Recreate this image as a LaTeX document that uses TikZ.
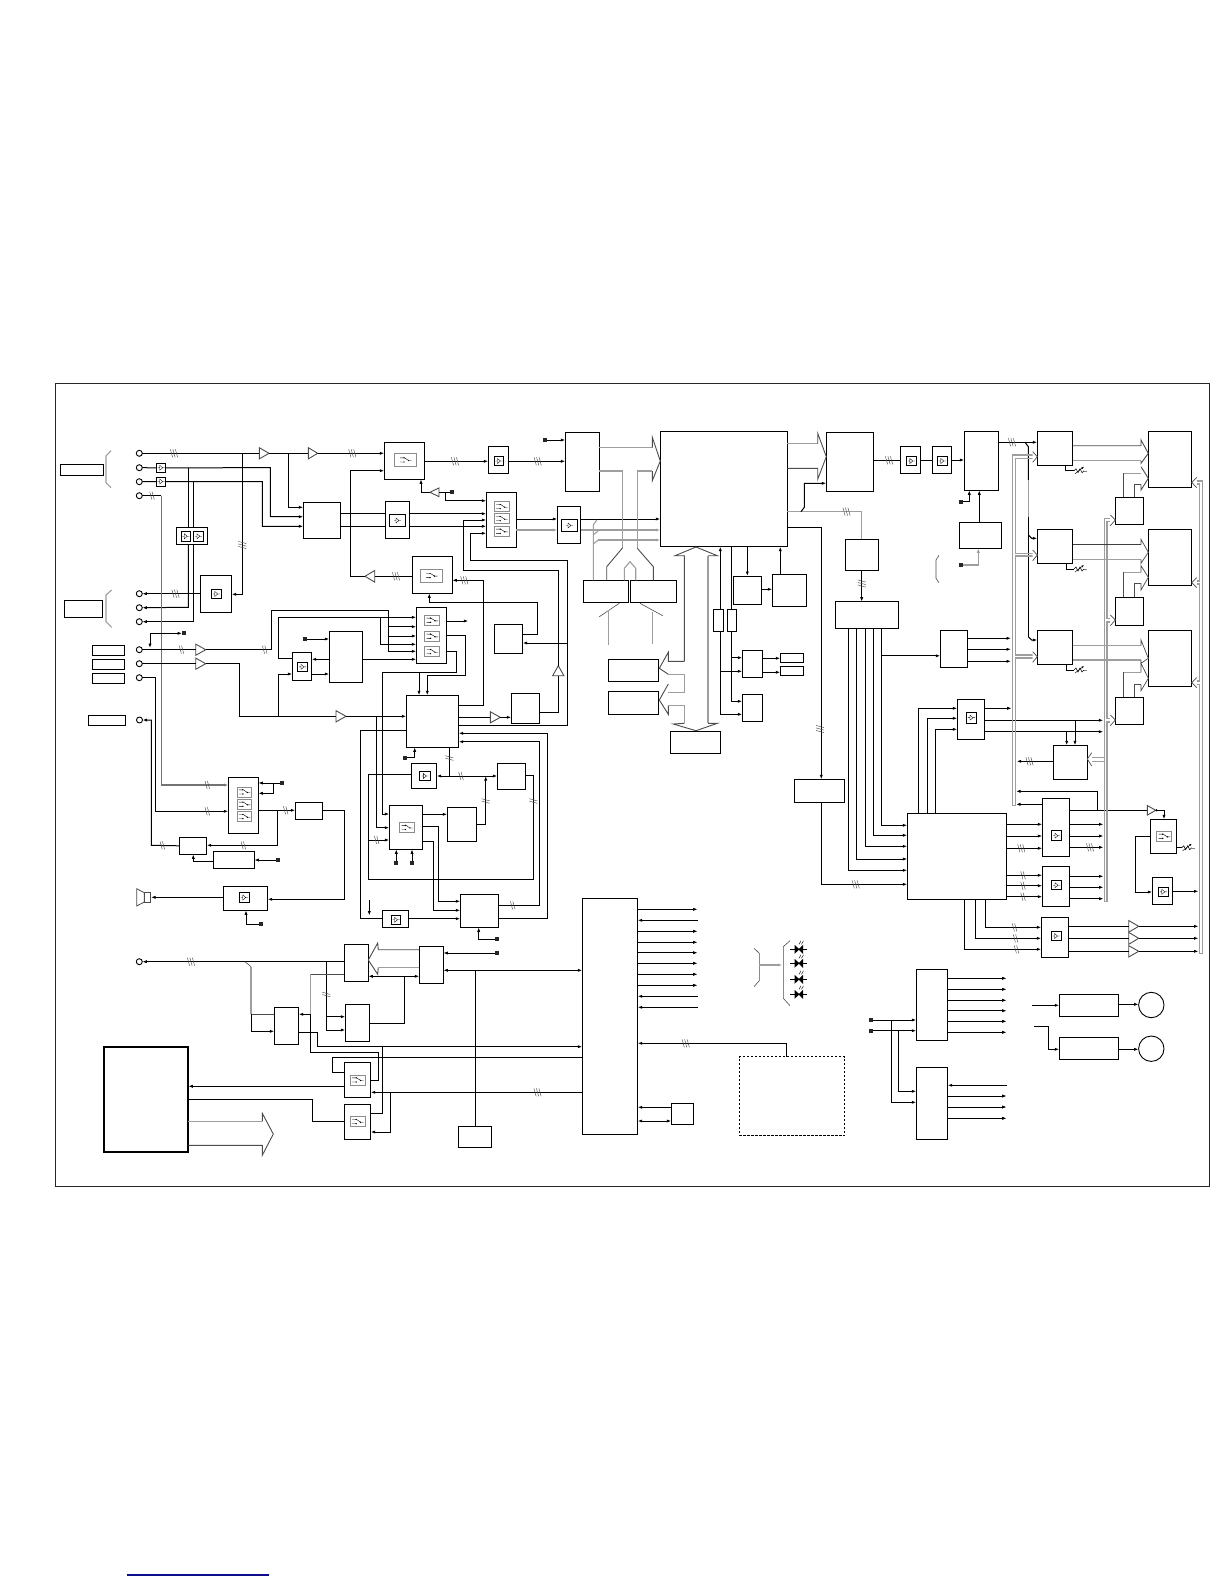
\documentclass[tikz,border=0pt]{standalone}
\usetikzlibrary{arrows.meta}
\definecolor{busgray}{gray}{0.62}
\definecolor{tipgray}{gray}{0.3}
\definecolor{linkblue}{rgb}{0.05,0.05,0.55}
\tikzset{
  wire/.style={line width=1pt,line join=miter},
  ar/.style={wire,-{Latex[length=4.5pt,width=3.2pt]}},
  ra/.style={wire,{Latex[length=4.5pt,width=3.2pt]}-},
  dar/.style={wire,{Latex[length=4.5pt,width=3.2pt]}-{Latex[length=4.5pt,width=3.2pt]}},
  gw/.style={line width=1.1pt,color=busgray},
  gar/.style={gw,-{Latex[length=4.5pt,width=3.2pt]}},
  dgw/.style={line width=0.9pt,color=tipgray},
  tick/.style={line width=0.45pt,color=tipgray},
  blk/.style={draw,line width=1pt,inner sep=0pt,outer sep=0pt},
  term/.style={draw,circle,line width=0.9pt,inner sep=0pt,outer sep=0pt,minimum size=6pt,fill=white},
  termsq/.style={fill=black!85,inner sep=0pt,outer sep=0pt,minimum size=3.8pt},
}
% box: name, x1,y1,x2,y2
\newcommand\Bx[6][]{\node[blk,#1,minimum width={(#5-#3)*1pt},minimum height={(#6-#4)*1pt}] (#2) at ({(#3+#5)/2},{(#4+#6)/2}) {};}
\newcommand\Sq[3]{\node[termsq] (#1) at (#2,#3) {};}
\newcommand\Ci[3]{\node[term] (#1) at (#2,#3) {};}
% inner switch icon
\newcommand\Swi[4]{\draw[color=black!45,line width=0.8pt] (#1,#2) rectangle (#3,#4);
  \begin{scope}[shift={({(#1+#3)/2},{(#2+#4)/2})}]
  \draw[line width=0.4pt] (-5.5,-2.2)--(-1,-2.2) (-5.5,2)--(-1,2) (-1,-2.2)--(3,0.5)--(6,0.5);
  \fill (-1.5,-2.2) circle (0.7) (-1.5,2) circle (0.7) (3,0.5) circle (0.7);
  \end{scope}}
% bare amplifier glyph, centred on a point
\newcommand\Gly[2]{\begin{scope}[shift={(#1,#2)}]
  \draw[line width=0.35pt] (-3.5,0)--(-1.5,0) (-1.5,-2.5)--(1.5,0)--(-1.5,2.5)--cycle (1.5,0)--(3.5,0);
  \end{scope}}
% inner amplifier icon
\newcommand\Amp[4]{\draw[line width=0.85pt] (#1,#2) rectangle (#3,#4);
  \Gly{{(#1+#3)/2}}{{(#2+#4)/2}}}
% triangles: name,x1,x2,y,halfheight  (right or left by the order of x), up: name,x,y1,y2,halfwidth
\newcommand\TriH[5]{\draw[dgw,fill=white] (#2,#4-#5)--(#3,#4)--(#2,#4+#5)--cycle;
  \coordinate (#1-a) at (#2,#4); \coordinate (#1-b) at (#3,#4);}
\newcommand\TriV[5]{\draw[dgw,fill=white] (#2-#5,#3)--(#2,#4)--(#2+#5,#3)--cycle;
  \coordinate (#1-a) at (#2,#3); \coordinate (#1-b) at (#2,#4);}
% tick marks on wires
\newcommand\Th[3]{\foreach \i in {#3} {\draw[tick] (#1+\i-1.1,#2-4)--(#1+\i+1.1,#2+4);}}
\newcommand\Tv[3]{\foreach \i in {#3} {\draw[tick] (#1-4,#2+\i-1.1)--(#1+4,#2+\i+1.1);}}
% variable resistor
\newcommand\Vres[2]{\draw[line width=0.5pt] (#1,#2)--(#1+2,#2-2)--(#1+4,#2+2)--(#1+6,#2-2)--(#1+8,#2+2)--(#1+10,#2);
  \draw[line width=0.45pt,-{Latex[length=2.5pt,width=2pt]}] (#1+1,#2+3)--(#1+10,#2-4);
  \draw[line width=0.4pt,color=black!50] (#1+10,#2)--(#1+13,#2);}
% LED
\newcommand\Led[1]{\draw[line width=0.8pt] (790,#1)--(807.3,#1);
  \fill (794.5,#1-4.5)--(799.5,#1)--(794.5,#1+4.5)--cycle (803,#1-4.5)--(798.5,#1)--(803,#1+4.5)--cycle;
  \draw[line width=0.4pt] (799,#1-5)--(801,#1-8.5) (801.5,#1-5)--(803.5,#1-8.5);}
% hollow arrow head
\newcommand\Hd[1]{\draw[dgw,line width=0.7pt,fill=white] #1;}
\begin{document}
\begin{tikzpicture}[x=1pt,y=-1pt]
\useasboundingbox (0,0) rectangle (1224,1584);
\fill[white] (0,0) rectangle (1224,1584);
\draw[line width=0.9pt,color=black!85] (55.5,383) rectangle (1209.3,1186.7);
\draw[line width=1.1pt,color=linkblue] (126.7,1575) -- (269,1575);

% ---- blocks
\Bx{labA}{60.3}{464.3}{103.3}{475.3}
\Bx{labB}{64.3}{600.3}{102.7}{617.7}
\Bx{labC}{92.3}{645.3}{124.7}{655.3}
\Bx{labD}{92.3}{659.3}{124.7}{669.3}
\Bx{labE}{92.3}{673.3}{124.7}{683.3}
\Bx{labF}{88.3}{715}{125.5}{725.3}
\Bx{sqA}{156.7}{463.3}{165.7}{472.3}
\Bx{sqB}{156.7}{477}{165.7}{486}
\Bx{dbl}{176.3}{527.3}{207.3}{544.3}
\Bx{outA}{200.3}{575.3}{231.7}{612.3}
\Bx{mixB}{303.3}{502.7}{340.3}{538.3}
\Bx{swD}{384.3}{442.7}{424.3}{479.3}
\Bx{ampF}{488.3}{446.3}{508.3}{473.3}
\Bx{boxG}{565.3}{432.7}{599.3}{491.3}
\Bx{ampJ}{385.3}{501.3}{409.7}{538.3}
\Bx{swK}{486.3}{492.3}{516.3}{547.3}
\Bx{ampL}{557.3}{506.3}{580.7}{543.7}
\Bx{swE}{412.3}{556.3}{452.3}{593.3}
\Bx{swM}{416.3}{607.3}{446.7}{663.3}
\Bx{boxN}{494.3}{624.3}{522.7}{653.3}
\Bx{adc}{292.3}{652.3}{311.7}{680.3}
\Bx{boxC}{329.3}{631.3}{362.7}{682.3}
\Bx{boxP}{406.3}{695.3}{458.7}{747.3}
\Bx{boxO}{511.3}{693.3}{539.7}{723.3}
\Bx{ampU}{411.3}{763.3}{436.7}{788.7}
\Bx{boxV}{497.3}{763.3}{525.7}{789.3}
\Bx{swR}{389.3}{805.7}{422.3}{849.3}
\Bx{boxS}{447.3}{807.3}{476.3}{841.3}
\Bx{ampQ}{382.3}{910.3}{408.7}{927.3}
\Bx{boxT}{460.3}{894.3}{498.7}{927.3}
\Bx{swW}{228.3}{777.3}{258.3}{833.3}
\Bx{boxX}{295.3}{802.3}{322.3}{819.3}
\Bx{boxY}{179.3}{837.3}{206.7}{854.3}
\Bx{boxZ}{213.3}{851.3}{254.3}{868.3}
\Bx{ampAA}{223.3}{886.3}{267.7}{910.3}
\Bx{boxBB}{344.3}{944.3}{368.3}{981.3}
\Bx{boxCC}{419.3}{946.3}{443.3}{983.3}
\Bx{boxDD}{345.3}{1004.3}{369.7}{1041.3}
\Bx{boxEE}{458.3}{1126.3}{491.3}{1147.3}
\Bx{boxFF}{274.3}{1007.3}{298.7}{1044.3}
\Bx{swGG}{344.3}{1062.3}{370.7}{1097.3}
\Bx{swHH}{344.3}{1104.3}{370.7}{1139.3}
\Bx[line width=2pt]{mon}{104}{1046.7}{188.3}{1152}
\Bx{ctrl}{582.3}{898.3}{637.7}{1134.3}
\Bx{smallB}{671.3}{1103.3}{693.7}{1124.3}
\Bx[dashed,dash pattern=on 2.5pt off 1.5pt]{dashB}{739.3}{1056.7}{844.7}{1135.7}
\Bx{boxII}{916.3}{969.3}{947.7}{1040.3}
\Bx{boxJJ}{916.3}{1067.3}{947.7}{1139.3}
\Bx{boxKK}{1059.3}{994.3}{1118}{1016}
\Bx{boxLL}{1059.3}{1037.7}{1118}{1059.3}
\node[draw,circle,line width=0.9pt,inner sep=0pt,outer sep=0pt,minimum size=25.4pt] (motA) at (1151.3,1005) {};
\node[draw,circle,line width=0.9pt,inner sep=0pt,outer sep=0pt,minimum size=25.4pt] (motB) at (1151.3,1048.7) {};
\Bx{memA}{583.3}{580.3}{628.3}{602.3}
\Bx{memB}{630.3}{580.3}{676.3}{602.3}
\Bx{memC}{608.3}{659.3}{658.5}{681.3}
\Bx{memD}{608.3}{691.3}{658.5}{714.3}
\Bx{memE}{670.3}{731.3}{720.3}{753.3}
\Bx{cpu}{660.3}{431.3}{787.3}{546.7}
\Bx{boxSS}{733.3}{576}{761.3}{604.3}
\Bx{boxTT}{772.3}{574.3}{806.7}{606.3}
\Bx{resA}{713.3}{609.3}{723.7}{631.3}
\Bx{resB}{727.3}{609.3}{736.3}{631.3}
\Bx{boxVV}{742.3}{650.3}{762.3}{677.3}
\Bx{boxUU}{742.3}{694.3}{762.3}{721.3}
\Bx{miniA}{780.3}{653.3}{803.7}{662.7}
\Bx{miniB}{780.3}{666.3}{803.7}{675.7}
\Bx{boxMM}{826.3}{432.7}{873.3}{491.3}
\Bx{ampNN}{900.3}{446.3}{920.3}{473.3}
\Bx{ampOO}{932.3}{446.3}{951.7}{473.3}
\Bx{boxPP}{964.3}{431.3}{998.7}{490.3}
\Bx{boxAT}{959.3}{522.3}{1001.3}{548.3}
\Bx{boxQQ}{845.3}{539.3}{878.7}{570.3}
\Bx{boxZZ}{835.3}{601.7}{898.3}{628.3}
\Bx{boxRR}{794.3}{779.3}{844.3}{802.3}
\Bx{boxAB}{907.3}{813.3}{1006.7}{899.3}
\Bx{boxAC}{940.3}{630.3}{967.7}{667.3}
\Bx{ampAD}{957.3}{699.3}{984.7}{739.3}
\Bx{boxAE}{1053.3}{745.3}{1087.3}{779.3}
\Bx{ampAO}{1042.3}{798.3}{1069.7}{856.3}
\Bx{ampAP}{1042.3}{866.3}{1069.7}{906.7}
\Bx{ampAQ}{1041.3}{917.3}{1068.7}{957.3}
\Bx{swAR}{1150.3}{819.3}{1176.7}{853.3}
\Bx{ampAS}{1152.3}{877.3}{1172.7}{904.7}
\Bx{boxAF}{1037.3}{431.3}{1072.7}{465.7}
\Bx{boxAG}{1037.3}{529.3}{1072.7}{563.7}
\Bx{boxAH}{1037.3}{630.3}{1072.7}{664.7}
\Bx{boxAI}{1115.3}{497.3}{1143.3}{524.3}
\Bx{boxAJ}{1115.3}{597.3}{1143.3}{625.3}
\Bx{boxAK}{1115.3}{697.3}{1143.3}{724.3}
\Bx{boxAL}{1148.3}{431.3}{1191.7}{487.3}
\Bx{boxAM}{1148.3}{529.3}{1191.7}{585.3}
\Bx{boxAN}{1148.3}{630.3}{1191.7}{686.3}

% ---- inner icons
\Amp{181.3}{531.3}{190.3}{541.3}\Amp{193.7}{531.3}{203.3}{541.3}
\Amp{211.3}{589.3}{221.3}{598.7}
\Gly{161.2}{467.8}\Gly{161.2}{481.5}
\Swi{394.3}{453.3}{416.7}{466.7}
\Amp{494.3}{456.3}{503.7}{465.7}
\Amp{389.3}{514.3}{405.7}{526.7}
\Swi{494.3}{501.7}{509}{511.7}\Swi{494.3}{513.7}{509}{523.7}\Swi{494.3}{526.3}{509}{536.3}
\Amp{561.3}{519.3}{577.7}{531.7}
\Swi{420.3}{569}{442.7}{582.3}
\Swi{424.7}{615.3}{439.3}{625.3}\Swi{424.7}{631.3}{439.3}{641.3}\Swi{424.7}{646.7}{439.3}{656.7}
\Amp{297.3}{662}{307.7}{671.7}
\Amp{419.7}{771.3}{430}{780.7}
\Swi{399.7}{822.3}{414.3}{832.7}
\Amp{391.3}{915.3}{400.7}{924.3}
\Swi{237}{787}{251.7}{797}\Swi{237}{799.3}{251.7}{809.3}\Swi{237}{811.7}{251.7}{821.7}
\Amp{239.3}{892.7}{249.3}{902.3}
\Swi{350.3}{1075}{365}{1085}\Swi{350.3}{1116.7}{365}{1126.7}
\Amp{906.7}{456.3}{916}{465.7}\Amp{937.3}{456.3}{947.3}{465.7}
\Amp{966.3}{712.3}{976.7}{723}
\Amp{1051.3}{830.7}{1061.7}{840.7}
\Amp{1051.3}{880.7}{1061.7}{889.7}
\Amp{1051}{931.3}{1061}{940.7}
\Swi{1156.7}{831}{1171.7}{841.7}
\Amp{1158.3}{887}{1168.3}{896.7}

% ---- terminals
\Ci{cA}{139.3}{453.3}\Ci{cB}{139.3}{467.7}\Ci{cC}{139.3}{481.7}\Ci{cD}{139.3}{495.7}
\Ci{cE}{139.3}{593.7}\Ci{cF}{139.3}{607.7}\Ci{cG}{139.3}{621.7}
\Ci{cH}{139.3}{649.7}\Ci{cI}{139.3}{663.7}\Ci{cJ}{139.3}{677.7}\Ci{cK}{139.5}{720}
\Ci{cL}{139.3}{961.7}
\Sq{tA}{184}{633.3}\Sq{tB}{305}{639}\Sq{tC}{545}{440}\Sq{tD}{452}{492.3}
\Sq{tE}{282}{783}\Sq{tF}{278}{860}\Sq{tG}{261}{924}\Sq{tH}{404.7}{757.7}
\Sq{tI}{396.3}{862.7}\Sq{tJ}{412}{862.7}\Sq{tK}{497}{939.3}\Sq{tL}{497}{953}
\Sq{tM}{961}{501.7}\Sq{tN}{961}{565}\Sq{tO}{871}{1020}\Sq{tP}{871}{1030.7}

% ---- triangles
\TriH{trA}{259.3}{269}{453.3}{5.6}
\TriH{trB}{308.3}{317.7}{453.3}{5.6}
\TriH{trC}{195.7}{205.7}{649.7}{5.6}
\TriH{trD}{195.7}{205.7}{663.7}{5.6}
\TriH{trE}{336}{346}{716.3}{5.6}
\TriH{trF}{490.3}{500.3}{717.3}{5.6}
\TriH{trG}{374.7}{365}{576.3}{5.8}
\TriH{trH}{439}{430}{492.3}{4.4}
\TriV{trI}{558.3}{675.7}{665.7}{5.6}
\TriH{trJ}{1147.3}{1155.7}{810.3}{4.8}
\TriH{trK}{1128.7}{1138.7}{926.3}{5.8}
\TriH{trL}{1128.7}{1138.7}{938.3}{6}
\TriH{trM}{1128.7}{1138.7}{951.3}{5.7}

% ---- gray braces
\draw[gw] (111,450.7)--(106,456)--(106,482.7)--(111,487.7);
\draw[gw] (111.7,590)--(106,595)--(106,621.7)--(111.7,627.3);
\draw[dgw,line width=.6pt] (939,555.3)--(936,560)--(936,578.3)--(939,582.7);
\draw[dgw,line width=.6pt] (754,948.3)--(759.3,953.3)--(759.3,980.7)--(754,986.7);
\draw[dgw,line width=.6pt] (790,940.7)--(783.3,946.7)--(783.3,998.3)--(790,1005.7);
\draw[gar] (759.3,965)--(782.3,965);
\Led{949.3}\Led{963.3}\Led{979.3}\Led{994.3}

% ---- upper left wiring
\draw[wire] (cA)--(trA-a) (trA-b)--(trB-a);
\draw[ar] (trB-b)--(swD.west |- 0,453.3); \Th{174}{453.3}{-2.5,0,2.5} \Th{352.3}{453.3}{-2.5,0,2.5}
\draw[wire] (cB)--(sqA.west) (cC)--(sqB.west);
\draw[ar] (sqA.east)--(270.3,467.7)--(270.3,516.7)--(mixB.west |- 0,516.7);
\draw[ar] (sqB.east)--(262.3,481.7)--(262.3,526.3)--(mixB.west |- 0,526.3);
\draw[ar] (288,453.3)--(288,507.3)--(mixB.west |- 0,507.3);
\draw[wire] (188.3,467.7)--(dbl.north -| 188.3,0);
\draw[wire] (193.3,481.7)--(dbl.north -| 193.3,0);
\draw[ar] (dbl.south -| 188.3,0)--(188.3,607.3)--(cF.east);
\draw[ar] (dbl.south -| 193.3,0)--(193.3,621.7)--(cG.east);
\draw[ar] (242.3,453.3)--(242.3,594.3)--(outA.east |- 0,594.3); \Tv{242.3}{545}{-2.5,0,2.5}
\draw[ar] (outA.west |- 0,593.7)--(cE.east); \Th{175.5}{593.7}{-2.5,0,2.5}
\draw[wire] (cD)--(161.3,495.7); \Th{152}{495.7}{-1.2,1.2}
\draw[gar,color=black!55] (161.3,495.7)--(161.3,785)--(swW.west |- 0,785); \Th{207.3}{785}{-1.2,1.2}
\draw[ar] (cJ.east)--(155.3,677.7)--(155.3,811.3)--(swW.west |- 0,811.3); \Th{207.3}{811.3}{-1.2,1.2}
\draw[ar] (boxY.west)--(151.3,845.3)--(151.3,720)--(cK.east); \Th{162.3}{845.3}{-1.2,1.2}
\draw[ar] (150,633.3)--(150,648);
\draw[ar] (150,633.3)--(tA.west);
\draw[wire] (cH)--(trC-a); \Th{181.5}{649.7}{-1.2,1.2}
\draw[ar] (trC-b)--(271.7,649.7)--(271.7,610.7)--(388.7,610.7)--(388.7,651.3)--(swM.west |- 0,651.3); \Th{264.7}{649.7}{-1.2,1.2}
\draw[ar] (388.7,626.7)--(swM.west |- 0,626.7);
\draw[ar] (388.7,636)--(swM.west |- 0,636);
\draw[ar] (adc.west |- 0,658.3)--(278.3,658.3)--(278.3,617.3)--(swM.west |- 0,617.3);
\draw[ar] (380.7,617.3)--(380.7,644.3)--(swM.west |- 0,644.3);
\draw[wire] (cI)--(trD-a);
\draw[wire] (trD-b)--(239.7,663.7)--(239.7,716.3)--(trE-a);
\draw[ar] (278.3,716.3)--(278.3,674)--(adc.west |- 0,674);
\draw[ar] (tB.east)--(boxC.west |- 0,639);
\draw[ar] (boxC.west |- 0,659.3)--(adc.east |- 0,659.3);
\draw[ar] (adc.east |- 0,674)--(boxC.west |- 0,674);
\draw[ar] (boxC.east |- 0,659.3)--(swM.west |- 0,659.3);
\draw[ar] (swM.east |- 0,621)--(468.3,621);
\draw[ar] (swM.east |- 0,635.3)--(465.7,635.3)--(465.7,675.7)--(427.3,675.7)--(boxP.north -| 427.3,0);
\draw[ar] (swM.east |- 0,651.3)--(456.7,651.3)--(456.7,672.3)--(382.3,672.3)--(382.3,814)--(swR.west |- 0,814);
\draw[ar] (419,672.3)--(boxP.north -| 419,0);
\draw[ar] (trE-b)--(boxP.west |- 0,716.3);
\draw[ar] (376.3,716.3)--(376.3,827.7)--(swR.west |- 0,827.7);

% ---- centre top
\draw[ar] (swD.east |- 0,461.3)--(ampF.west |- 0,461.3); \Th{455}{461.3}{-2.5,0,2.5}
\draw[ar] (ampF.east |- 0,461.3)--(boxG.west |- 0,461.3); \Th{537.7}{461.3}{-2.5,0,2.5}
\draw[ar] (tC.east)--(boxG.west |- 0,440);
\draw[ar] (350.3,576.3)--(350.3,470.7)--(swD.west |- 0,470.7);
\draw[wire] (trG-b)--(350.3,576.3);
\draw[wire] (swE.west |- 0,576.3)--(trG-a); \Th{396}{576.3}{-2.5,0,2.5}
\draw[wire] (mixB.east |- 0,513.7)--(ampJ.west |- 0,513.7);
\draw[wire] (mixB.east |- 0,526.3)--(ampJ.west |- 0,526.3);
\draw[ar] (ampJ.east |- 0,513.7)--(swK.west |- 0,513.7);
\draw[ar] (ampJ.east |- 0,526.3)--(swK.west |- 0,526.3);
\draw[ar] (445.3,492.3)--(445.3,500.7)--(swK.west |- 0,500.7);
\draw[wire] (tD.west)--(trH-a);
\draw[ar] (trH-b)--(421,492.3)--(swD.south -| 421,0);
\draw[wire] (boxO.east |- 0,712.7)--(558.3,712.7)--(trI-a);
\draw[ar] (trI-b)--(558.3,570.3)--(463.7,570.3)--(463.7,520)--(swK.west |- 0,520);
\draw[ar] (boxP.east |- 0,725)--(567.3,725)--(567.3,560.3)--(470.3,560.3)--(470.3,533.3)--(swK.west |- 0,533.3);
\draw[ar] (567.3,643)--(boxN.east |- 0,643);
\draw[ar] (boxN.east |- 0,634.3)--(537.3,634.3)--(537.3,602.3)--(429.3,602.3)--(swE.south -| 429.3,0);
\draw[ar] (boxP.east |- 0,705.3)--(483.7,705.3)--(483.7,580.3)--(swE.east |- 0,580.3); \Th{464.3}{580.3}{-2.5,0,2.5}
\draw[wire] (boxP.east |- 0,717.3)--(trF-a);
\draw[ar] (trF-b)--(boxO.west |- 0,717.3);
\draw[ar] (swK.east |- 0,519)--(ampL.west |- 0,519);
\draw[gar] (swK.east |- 0,530)--(ampL.west |- 0,530);
\draw[ar] (ampL.east |- 0,519)--(cpu.west |- 0,519);
\draw[gar] (ampL.east |- 0,530)--(cpu.west |- 0,530);
\draw[gar] (598.3,540)--(cpu.west |- 0,540);
% memory bus fan
\draw[gw] (boxG.east |- 0,447.7)--(652.3,447.7);
\draw[dgw] (652.3,447.7)--(652.3,437.3)--(cpu.west |- 0,461)--(652.3,480.7)--(652.3,471);
\draw[gw] (652.3,471)--(637.3,471)--(637.3,548.3);
\draw[dgw] (637.3,548.3)--(653.3,566.7)--(653.3,580.3);
\draw[gw] (boxG.east |- 0,471)--(622.7,471)--(622.7,547.7);
\draw[dgw] (622.7,547.7)--(606.7,566.7)--(606.7,580.3);
\draw[gw] (624.3,580.3)--(624.3,568.3)--(630,561.7)--(635.7,568.3)--(635.7,580.3);
\draw[gw] (593.3,580.3)--(593.3,525)--(596.7,520);
\draw[gw] (593.3,535)--(598.3,530.7);
\draw[gw] (593.3,544)--(598.3,540);
\draw[dgw,line width=.6pt] (599.3,616.7)--(619.3,603.3);
\draw[dgw,line width=.6pt] (640,603.3)--(662.7,615.7);
\draw[gw] (608.3,610)--(608.3,645);
\draw[gw] (652.7,611.7)--(652.7,644);
% data bus
\draw[dgw] (684.3,661.3)--(684.3,555.7)--(675,555.7)--(696,547)--(717.3,555.7)--(708,555.7);
\draw[gw] (708,555.7)--(708,723.3);
\draw[dgw] (708,723.3)--(717.3,723.3)--(696,730.7)--(673.3,724)--(684.3,723.3);
\draw[dgw] (684.3,661.3)--(668.3,661.3)--(668.3,652.3)--(659.3,668.3)--(668.3,674.3);
\draw[gw] (668.3,674.3)--(684.3,674.3)--(684.3,692.7)--(668.3,692.7);
\draw[dgw] (668.3,684)--(659.3,700)--(668.3,714.3)--(668.3,705.3);
\draw[gw] (668.3,705.3)--(684.3,705.3)--(684.3,723.3);
% below cpu
\draw[ar] (cpu.south -| 747.3,0)--(boxSS.north -| 747.3,0);
\draw[ar] (boxSS.east |- 0,589.3)--(boxTT.west |- 0,589.3);
\draw[ar] (boxTT.north -| 780.3,0)--(cpu.south -| 780.3,0);
\draw[wire] (720.3,714.3)--(resA.south -| 720.3,0);
\draw[ar] (720.3,714.3)--(boxUU.west |- 0,714.3);
\draw[ar] (resA.north -| 720.3,0)--(cpu.south -| 720.3,0);
\draw[wire] (cpu.south -| 731.7,0)--(resB.north -| 731.7,0);
\draw[ar] (resB.south -| 731.7,0)--(731.7,701.3)--(boxUU.west |- 0,701.3);
\draw[ar] (731.7,657.7)--(boxVV.west |- 0,657.7);
\draw[ar] (720.3,671.3)--(boxVV.west |- 0,671.3);
\draw[ar] (boxVV.east |- 0,658.3)--(miniA.west |- 0,658.3);
\draw[ar] (boxVV.east |- 0,672.3)--(miniB.west |- 0,672.3);
% cpu to the right
\draw[gw] (cpu.east |- 0,443.7)--(817.7,443.7);
\draw[dgw] (cpu.east |- 0,468.3)--(817.7,468.3)--(817.7,479.3)--(boxMM.west |- 0,456.7)--(817.7,433.3)--(817.7,443.7);
\draw[gw] (cpu.east |- 0,511.7)--(861.7,511.7)--(boxQQ.north -| 861.7,0); \Th{846.5}{511.7}{-2.5,0,2.5}
\draw[ar] (801,511.7)--(804.3,507.3)--(804.3,483.3)--(boxMM.west |- 0,483.3);
\draw[ar] (cpu.east |- 0,527.3)--(821.3,527.3)--(boxRR.north -| 821.3,0); \Tv{820}{729}{-2.5,0,2.5}
\draw[ar] (boxQQ.south -| 861.7,0)--(boxZZ.north -| 861.7,0); \Tv{861.7}{583.5}{-2.5,0,2.5}
\draw[wire] (boxMM.east |- 0,460.3)--(ampNN.west |- 0,460.3); \Th{889}{460.3}{-2.5,0,2.5}
\draw[wire] (ampNN.east |- 0,460.3)--(ampOO.west |- 0,460.3);
\draw[ar] (ampOO.east |- 0,460)--(boxPP.west |- 0,460);
\draw[ar] (tM.east)--(969.3,501.7)--(boxPP.south -| 969.3,0);
\draw[ar] (boxAT.north -| 979.3,0)--(boxPP.south -| 979.3,0);
\draw[gar] (tN.east)--(978.3,565)--(boxAT.south -| 978.3,0);
% ZZ to AB
\draw[ar] (boxZZ.south -| 848.5,0)--(848.5,870.3)--(boxAB.west |- 0,870.3);
\draw[ar] (boxZZ.south -| 856.5,0)--(856.5,859)--(boxAB.west |- 0,859);
\draw[ar] (boxZZ.south -| 865.5,0)--(865.5,846.3)--(boxAB.west |- 0,846.3);
\draw[ar] (boxZZ.south -| 873.3,0)--(873.3,835.3)--(boxAB.west |- 0,835.3);
\draw[ar] (boxZZ.south -| 881.3,0)--(881.3,825.3)--(boxAB.west |- 0,825.3);
\draw[ar] (boxRR.south -| 821.3,0)--(821.3,884.3)--(boxAB.west |- 0,884.3); \Th{855.7}{884.3}{-2.5,0,2.5}
\draw[ar] (881.3,655.8)--(boxAC.west |- 0,655.8);
\draw[ar] (boxAC.east |- 0,638.3)--(1011,638.3);
\draw[ar] (boxAC.east |- 0,649.3)--(1011,649.3);
\draw[ar] (boxAC.east |- 0,661.3)--(1011,661.3);
\draw[ar] (boxAB.north -| 918.3,0)--(918.3,708.3)--(ampAD.west |- 0,708.3);
\draw[ar] (boxAB.north -| 927.3,0)--(927.3,718.3)--(ampAD.west |- 0,718.3);
\draw[ar] (boxAB.north -| 935.3,0)--(935.3,729.3)--(ampAD.west |- 0,729.3);
\draw[ar] (ampAD.east |- 0,708.3)--(1011.7,708.3);
\draw[ar] (ampAD.east |- 0,720.3)--(1103.3,720.3);
\draw[ar] (ampAD.east |- 0,731.7)--(1103.3,731.7);
\draw[ar] (1075,720.3)--(boxAE.north -| 1075,0);
\draw[ar] (1066.7,731.7)--(boxAE.north -| 1066.7,0);
\draw[ar] (boxAE.west |- 0,761.3)--(1016.7,761.3); \Th{1029.5}{761.3}{-2.5,0,2.5}
\draw[gw] (1091.7,757.3)--(1104.3,757.3);
\draw[gw] (1091.7,761.3)--(1104.3,761.3);
\Hd{(1091.7,752.7)--(boxAE.east |- 0,759)--(1091.7,766)}
\draw[ar] (boxAB.east |- 0,824.3)--(ampAO.west |- 0,824.3);
\draw[ar] (boxAB.east |- 0,836)--(ampAO.west |- 0,836);
\draw[ar] (boxAB.east |- 0,848.3)--(ampAO.west |- 0,848.3); \Th{1021.3}{848.3}{-2.5,0,2.5}
\draw[ar] (ampAO.west |- 0,804.3)--(1016,804.3);
\draw[wire] (ampAO.east |- 0,810.3)--(trJ-a);
\draw[ar] (1097.3,810.3)--(1097.3,791.3)--(1016,791.3);
\draw[ar] (trJ-b)--(1164,810.3)--(swAR.north -| 1164,0);
\fill (1156.5,810.3) circle (1.2);
\draw[ar] (ampAO.east |- 0,824.3)--(1103.5,824.3);
\draw[ar] (ampAO.east |- 0,836)--(1103.5,836);
\draw[ar] (ampAO.east |- 0,847.3)--(1103.5,847.3); \Th{1090}{847.3}{-2.5,0,2.5}
\draw[ar] (boxAB.east |- 0,875.3)--(ampAP.west |- 0,875.3); \Th{1023}{875.3}{-1.2,1.2}
\draw[ar] (boxAB.east |- 0,885.7)--(ampAP.west |- 0,885.7); \Th{1023}{885.7}{-1.2,1.2}
\draw[ar] (boxAB.east |- 0,896.7)--(ampAP.west |- 0,896.7); \Th{1023}{896.7}{-1.2,1.2}
\draw[ar] (ampAP.east |- 0,876.3)--(1103.5,876.3);
\draw[ar] (ampAP.east |- 0,887.3)--(1103.5,887.3);
\draw[ar] (ampAP.east |- 0,898.7)--(1103.5,898.7);
\draw[ar] (boxAB.south -| 985.3,0)--(985.3,927.3)--(ampAQ.west |- 0,927.3); \Th{1014.5}{927.3}{-1.2,1.2}
\draw[ar] (boxAB.south -| 975.3,0)--(975.3,938.3)--(ampAQ.west |- 0,938.3); \Th{1015.5}{938.3}{-1.2,1.2}
\draw[ar] (boxAB.south -| 964.3,0)--(964.3,949.3)--(ampAQ.west |- 0,949.3); \Th{1016.5}{949.3}{-1.2,1.2}
\draw[wire] (ampAQ.east |- 0,926.3)--(trK-a) (ampAQ.east |- 0,938.3)--(trL-a) (ampAQ.east |- 0,951.3)--(trM-a);
\draw[ar] (trK-b)--(1198.5,926.3);
\draw[ar] (trL-b)--(1198.5,938.3);
\draw[ar] (trM-b)--(1198.5,951.3);
\draw[ar] (swAR.west |- 0,836.3)--(1135.7,836.3)--(1135.7,892)--(ampAS.west |- 0,892);
\draw[ar] (ampAS.east |- 0,891.3)--(1198.5,891.3);
\draw[wire] (swAR.east |- 0,847.7)--(1181.7,847.7); \Vres{1181.7}{847.7}

% ---- output stages
\draw[ar] (boxPP.east |- 0,442.3)--(boxAF.west |- 0,442.3); \Th{1012}{442.3}{-2.5,0,2.5}
\draw[wire] (1025,442.3)--(1028.3,446.7)--(1028.3,480);
\draw[gw] (1028.3,480)--(1028.3,516.7);
\draw[wire] (1028.3,516.7)--(1028.3,636.7);
\draw[ar] (1028.3,535)--(1031.7,538.3)--(boxAG.west |- 0,538.3);
\draw[ar] (1028.3,636.7)--(1031.7,640)--(boxAH.west |- 0,640);
% bus 1
\draw[gw] (1032.7,455)--(1012.7,455)--(1012.7,805.7)--(1015.7,805.7)--(1015.7,658)--(1032.7,658);
\draw[gw] (1032.7,458.3)--(1015.7,458.3)--(1015.7,553.3)--(1032.7,553.3);
\draw[gw] (1032.7,556)--(1015.7,556)--(1015.7,655)--(1032.7,655);
\Hd{(1032.7,451.7)--(boxAF.west |- 0,456.7)--(1032.7,462.3)}
\Hd{(1032.7,550)--(boxAG.west |- 0,555)--(1032.7,560.7)}
\Hd{(1032.7,651.7)--(boxAH.west |- 0,656.7)--(1032.7,662.3)}
% bus 2
\draw[gw] (1110.3,518.7)--(1104.3,518.7)--(1104.3,901.7)--(1107,901.7)--(1107,722)--(1110.3,722);
\draw[gw] (1110.3,521.7)--(1107,521.7)--(1107,618.7)--(1110.3,618.7);
\draw[gw] (1110.3,622)--(1107,622)--(1107,718.7)--(1110.3,718.7);
\Hd{(1110.3,515)--(boxAI.west |- 0,520)--(1110.3,525.7)}
\Hd{(1110.3,615)--(boxAJ.west |- 0,620)--(1110.3,625.7)}
\Hd{(1110.3,715)--(boxAK.west |- 0,720)--(1110.3,725.7)}
% bus 3
\draw[gw] (1196.7,481)--(1202.7,481)--(1202.7,953.3)--(1199.3,953.3)--(1199.3,684.3)--(1196.7,684.3);
\draw[gw] (1196.7,484)--(1199.3,484)--(1199.3,581)--(1196.7,581);
\draw[gw] (1196.7,584)--(1199.3,584)--(1199.3,681)--(1196.7,681);
\Hd{(1196.7,477.3)--(boxAL.east |- 0,482.3)--(1196.7,487.7)}
\Hd{(1196.7,577.7)--(boxAM.east |- 0,582.7)--(1196.7,587.7)}
\Hd{(1196.7,677.7)--(boxAN.east |- 0,682.7)--(1196.7,687.7)}
% AF, AG, AH outputs
\draw[dgw] (boxAF.east |- 0,445.7)--(1141,445.7)--(1141,440)--(boxAL.west |- 0,453.3)--(1141,463.3)--(1141,460.7);
\draw[gw] (boxAF.east |- 0,460.7)--(1141,460.7);
\draw[dgw] (1141,466.7)--(boxAL.west |- 0,478.3)--(1141,490)--(1141,484.3);
\draw[gw] (1141,473.3)--(1123.3,473.3);
\draw[dgw] (1123.3,473.3)--(boxAI.north -| 1123.3,0);
\draw[dgw] (1141,484.3)--(1134.3,484.3)--(boxAI.north -| 1134.3,0);
\draw[wire,line width=.6pt,color=black!75] (boxAG.east |- 0,544.7)--(1141,544.7);
\draw[gw] (boxAG.east |- 0,559.3)--(1141,559.3);
\Hd{(1141,559.3)--(1141,563.3)--(boxAM.west |- 0,552.3)--(1141,539.3)--(1141,544.7)}
\Hd{(1141,572.3)--(1141,565.7)--(boxAM.west |- 0,577.3)--(1141,590)--(1141,583.3)}
\draw[gw] (1141,572.3)--(1123.3,572.3);
\draw[dgw] (1123.3,572.3)--(boxAJ.north -| 1123.3,0);
\draw[dgw] (1141,583.3)--(1134.3,583.3)--(boxAJ.north -| 1134.3,0);
\draw[gw] (boxAH.east |- 0,645.7)--(1141,645.7);
\draw[gw] (boxAH.east |- 0,660)--(1141,660);
\Hd{(1141,645.7)--(1141,640)--(boxAN.west |- 0,658.3)--(1141,663.3)--(1141,660)}
\Hd{(1141,672.3)--(1141,663.3)--(boxAN.west |- 0,678.3)--(1141,690.7)--(1141,684.3)}
\draw[gw] (1141,672.3)--(1123.3,672.3);
\draw[dgw] (1123.3,672.3)--(boxAK.north -| 1123.3,0);
\draw[dgw] (1141,684.3)--(1134.3,684.3)--(boxAK.north -| 1134.3,0);
\draw[line width=.6pt] (boxAF.south -| 1065.7,0)--(1065.7,470.7)--(1074,470.7); \Vres{1074}{470.7}
\draw[line width=.6pt] (boxAG.south -| 1066,0)--(1066,569)--(1074,569); \Vres{1074}{569}
\draw[line width=.6pt] (boxAH.south -| 1066,0)--(1066,670)--(1074,670); \Vres{1074}{670}

% ---- lower left wiring
\draw[ar] (tE.west)--(swW.east |- 0,783);
\draw[ar] (273.3,783)--(273.3,793.3)--(swW.east |- 0,793.3);
\draw[ar] (swW.east |- 0,810.3)--(boxX.west |- 0,810.3); \Th{285.7}{810.3}{-1.2,1.2}
\draw[ar] (277.3,810.3)--(277.3,845.3)--(boxY.east |- 0,845.3); \Th{243.3}{845.3}{-1.2,1.2}
\draw[ar] (boxZ.west |- 0,861.3)--(193.3,861.3)--(boxY.south -| 193.3,0);
\draw[ar] (tF.west)--(boxZ.east |- 0,860);
\draw[ar] (boxX.east |- 0,810.3)--(344.3,810.3)--(344.3,899.3)--(ampAA.east |- 0,899.3);
\draw[ar] (ampAA.west |- 0,897.3)--(151,897.3);
\draw[dgw,line width=.8pt] (144.3,892.7)--(136.7,888.7)--(136.7,906)--(144.3,902)--cycle;
\draw[dgw,line width=.8pt] (144.3,892.7) rectangle (150.7,902);
\draw[ar] (tG.west)--(246,924)--(ampAA.south -| 246,0);

% ---- block P group
\draw[wire] (boxP.west |- 0,730.7)--(360.7,730.7)--(360.7,918.3)--(ampQ.west |- 0,918.3);
\draw[ar] (369.3,900)--(369.3,915.5);
\draw[ar] (ampQ.east |- 0,918.7)--(boxT.west |- 0,918.7);
\draw[ar] (swR.east |- 0,814.3)--(boxS.west |- 0,814.3);
\draw[ar] (swR.east |- 0,826.3)--(438.7,826.3)--(438.7,901.3)--(boxT.west |- 0,901.3);
\draw[ar] (swR.east |- 0,841.3)--(433.3,841.3)--(433.3,910.3)--(boxT.west |- 0,910.3);
\draw[wire] (ampU.west |- 0,774.3)--(368.3,774.3)--(368.3,879.3)--(533.3,879.3)--(533.3,775.7)--(boxV.east |- 0,775.7); \Tv{533.3}{801}{-1.2,1.2}
\draw[ar] (368.3,840)--(swR.west |- 0,840); \Th{376.7}{840}{-1.2,1.2}
\draw[dar] (ampU.east |- 0,776)--(boxV.west |- 0,776); \Th{461}{776}{-1.2,1.2}
\draw[wire] (boxP.south -| 449.3,0)--(449.3,776); \Tv{449.3}{758}{-1.2,1.2}
\draw[ar] (boxS.east |- 0,824.3)--(485.7,824.3)--(485.7,776); \Tv{485.7}{801}{-1.2,1.2}
\draw[ar] (tH.east)--(414.7,757.7)--(boxP.south -| 414.7,0);
\draw[ar] (tI.north)--(swR.south -| 396.3,0);
\draw[ar] (tJ.north)--(swR.south -| 412,0);
\draw[ar] (tK.west)--(478.7,939.3)--(boxT.south -| 478.7,0);
\draw[ar] (boxT.east |- 0,905.3)--(539.3,905.3)--(539.3,741.7)--(boxP.east |- 0,741.7); \Th{512.7}{905.3}{-1.2,1.2}
\draw[ar] (boxT.east |- 0,918.3)--(547.3,918.3)--(547.3,733.3)--(boxP.east |- 0,733.3);

% ---- bottom section
\draw[ar] (boxBB.west |- cL.east)--(cL.east); \Th{191}{961.7}{-2.5,0,2.5}
\draw[dgw] (boxCC.west |- 0,949.7)--(378.3,949.7)--(377.7,943)--(boxBB.east |- 0,960)--(377.7,974.3)--(378.3,967.3);
\draw[gw] (378.3,967.3)--(boxCC.west |- 0,967.3);
\draw[dar] (boxBB.east |- 0,976.3)--(boxCC.west |- 0,976.3);
\draw[wire] (404,976.3)--(404,1023.3)--(boxDD.east |- 0,1023.3);
\draw[ar] (326.3,961.7)--(326.3,1030)--(boxDD.west |- 0,1030); \Tv{326.3}{994.5}{-1.2,1.2}
\draw[ar] (326.3,1016.7)--(boxDD.west |- 0,1016.7);
\draw[ar] (tL.west)--(boxCC.east |- 0,953);
\draw[dar] (boxCC.east |- 0,970.3)--(ctrl.west |- 0,970.3);
\draw[wire] (475.7,970.3)--(boxEE.north -| 475.7,0);
\draw[dgw,line width=.6pt] (245,961.7)--(251,966.7);
\draw[gw] (251,966.7)--(251,1014.3);
\draw[dgw] (251,1014.3)--(boxFF.west |- 0,1014.3);
\draw[ar] (251,1014.3)--(251,1031.3)--(boxFF.west |- 0,1031.3);
\draw[dgw] (boxBB.west |- 0,974.3)--(310.3,974.3);
\draw[gw] (310.3,974.3)--(310.3,1014.3);
\draw[wire] (310.3,1014.3)--(310.3,1052.3)--(378.7,1052.3)--(378.7,1080.3)--(swGG.east |- 0,1080.3);
\draw[ar] (310.3,1014.3)--(boxFF.east |- 0,1014.3);
\draw[wire] (boxFF.east |- 0,1032.3)--(317.3,1032.3)--(317.3,1046.7);
\draw[ar] (317.3,1046.7)--(ctrl.west |- 0,1046.7);
\draw[wire] (382.3,1046.7)--(382.3,1113.3)--(swHH.east |- 0,1113.3);
\draw[wire] (swGG.west |- 0,1072.3)--(332.3,1072.3)--(332.3,1057.3)--(ctrl.west |- 0,1057.3);
\draw[ar] (ctrl.west |- 0,1092.3)--(swGG.east |- 0,1092.3); \Th{537.5}{1092.3}{-2.5,0,2.5}
\draw[ar] (390.3,1092.3)--(390.3,1132)--(swHH.east |- 0,1132);
\draw[ar] (swGG.west |- 0,1086.3)--(mon.east |- 0,1086.3);
\draw[wire] (mon.east |- 0,1099.3)--(312.3,1099.3)--(312.3,1121.3)--(swHH.west |- 0,1121.3);
\draw[gw] (mon.east |- 0,1121.3)--(262.3,1121.3);
\draw[dgw] (mon.east |- 0,1145.3)--(262.3,1145.3)--(262.3,1155.3)--(273.3,1134)--(262.3,1113.3)--(262.3,1121.3);

% ---- control box
\foreach \yy in {909.3,931.3,942.3,952.7,963.3,974.3,985.3}{
  \draw[ar] (ctrl.east |- 0,\yy)--(697.7,\yy);}
\foreach \yy in {920.3,996.3,1007.3}{
  \draw[ar] (697.7,\yy)--(ctrl.east |- 0,\yy);}
\draw[ar] (dashB.north -| 786.7,0)--(786.7,1043.3)--(ctrl.east |- 0,1043.3); \Th{685.7}{1043.3}{-2.5,0,2.5}
\draw[ar] (smallB.west |- 0,1107.3)--(ctrl.east |- 0,1107.3);
\draw[dar] (smallB.west |- 0,1121)--(ctrl.east |- 0,1121);

% ---- lower right
\foreach \yy in {978.3,989.3,1000.3,1010.7,1021.3,1032.3}{
  \draw[ar] (boxII.east |- 0,\yy)--(1006.7,\yy);}
\draw[ar] (tO.east)--(boxII.west |- 0,1020);
\draw[ar] (tP.east)--(boxII.west |- 0,1030.7);
\draw[ar] (891.3,1020)--(891.3,1102.3)--(boxJJ.west |- 0,1102.3);
\draw[ar] (898.3,1030.7)--(898.3,1091.3)--(boxJJ.west |- 0,1091.3);
\draw[ar] (1007.3,1085.3)--(boxJJ.east |- 0,1085.3);
\foreach \yy in {1096,1107,1118.3}{
  \draw[ar] (boxJJ.east |- 0,\yy)--(1006.7,\yy);}
\draw[ar] (1032,1005.3)--(boxKK.west |- 0,1005.3);
\draw[ar] (1034,1026.3)--(1048.7,1026.3)--(1048.7,1049.3)--(boxLL.west |- 0,1049.3);
\draw[ar] (boxKK.east |- 0,1004.3)--(motA.west |- 0,1004.3);
\draw[ar] (boxLL.east |- 0,1049.3)--(motB.west |- 0,1049.3);
\end{tikzpicture}
\end{document}
